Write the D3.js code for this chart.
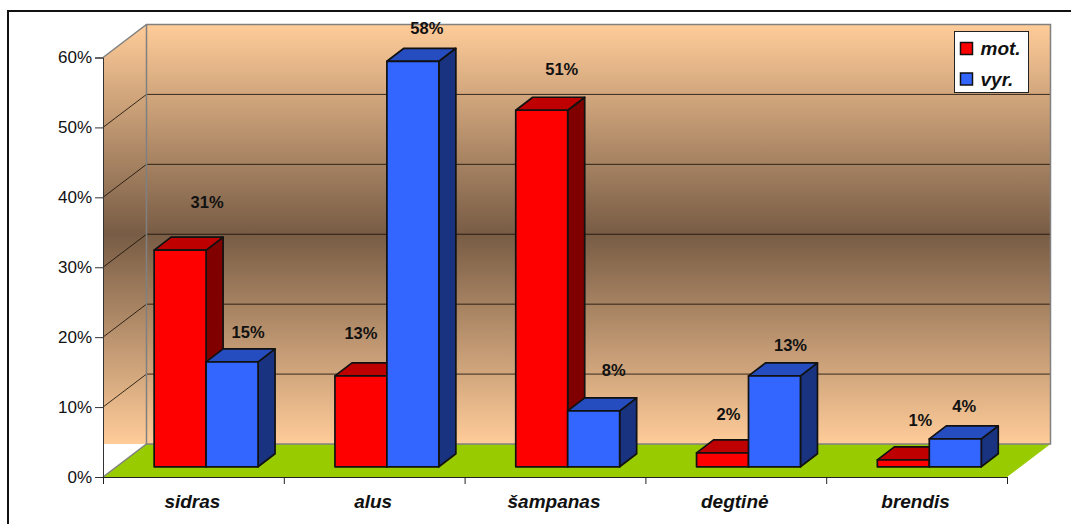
<!DOCTYPE html>
<html>
<head>
<meta charset="utf-8">
<script src="https://cdn.jsdelivr.net/npm/d3@7/dist/d3.min.js"></script>
<style>
    html, body { margin: 0; padding: 0; background: #fff; overflow: hidden; }
    text { font-family: "Liberation Sans", Arial, sans-serif; fill: #111; }
</style>
</head>
<body>
<svg id="chart" width="1071" height="524"></svg>
<script>
var categories = ["sidras", "alus", "šampanas", "degtinė", "brendis"];
var seriesNames = ["mot.", "vyr."];
var motValues = [31, 13, 51, 2, 1];
var vyrValues = [15, 58, 8, 13, 4];
var tickValues = [0, 10, 20, 30, 40, 50, 60];

var colors = {
    "mot.": { front: "#ff0000", top: "#bf0000", side: "#800000" },
    "vyr.": { front: "#3366ff", top: "#264dbf", side: "#1a3380" }
};

// label nudges from the bar's top-centre, [dx, dy], same order as the values
var motNudge = [[27, -48], [0, -43], [20, -41], [6, -39], [17, -40]];
var vyrNudge = [[16, -30], [14, -33], [20, -41], [16, -31], [9, -33]];

var svg = d3.select("#chart");

// front plane of the chart box, and how far back the walls sit
var left = 103, right = 1007, top0 = 57.5, bottom = 477;
var depthX = 43.5, depthY = -33;

var x = d3.scaleBand().domain(categories).range([left, right]).paddingInner(0).paddingOuter(0);
var y = d3.scaleLinear().domain([0, 60]).range([bottom, top0]);

var inner = d3.scaleBand().domain(seriesNames).range([0, x.bandwidth()]).paddingInner(0).paddingOuter(0.74);

// bars stand part way into the floor
var barDx = 12.7, barDy = -10.2;
var barDepthX = 17, barDepthY = -13;

var line = d3.line();

var defs = svg.append("defs");
var grad = defs.append("linearGradient")
    .attr("id", "wallGrad")
    .attr("gradientUnits", "userSpaceOnUse")
    .attr("x1", 0).attr("x2", 0)
    .attr("y1", y(60) + depthY).attr("y2", y(0) + depthY);
grad.append("stop").attr("offset", "0%").attr("stop-color", "#ffcc99");
grad.append("stop").attr("offset", "50%").attr("stop-color", "#785c45");
grad.append("stop").attr("offset", "100%").attr("stop-color", "#ffcc99");

// outer frame, runs off the right and bottom of the page
svg.append("rect")
    .attr("x", 8).attr("y", 11)
    .attr("width", 1100).attr("height", 560)
    .attr("fill", "#fff").attr("stroke", "#111").attr("stroke-width", 2);

// side wall: the gradient stops at the floor line of the back wall
var sideClip = defs.append("clipPath").attr("id", "sideClip");
sideClip.append("rect")
    .attr("x", left).attr("y", y(60) + depthY)
    .attr("width", depthX).attr("height", y(0) - y(60));

svg.append("path")
    .attr("d", line([[left, y(60)], [left + depthX, y(60) + depthY], [left + depthX, y(0) + depthY], [left, y(0)]]) + "Z")
    .attr("fill", "url(#wallGrad)")
    .attr("clip-path", "url(#sideClip)");

// back wall
svg.append("rect")
    .attr("x", left + depthX).attr("y", y(60) + depthY)
    .attr("width", right - left).attr("height", y(0) - y(60))
    .attr("fill", "url(#wallGrad)");

// floor
svg.append("path")
    .attr("d", line([[left, y(0)], [left + depthX, y(0) + depthY], [right + depthX, y(0) + depthY], [right, y(0)]]) + "Z")
    .attr("fill", "#99cc00");

// grid lines on both walls
tickValues.forEach(function (t) {
    if (t === 0 || t === 60) return;
    svg.append("path")
        .attr("d", line([[left, y(t)], [left + depthX, y(t) + depthY], [right + depthX, y(t) + depthY]]))
        .attr("fill", "none")
        .attr("stroke", "#1a1208")
        .attr("stroke-opacity", 0.85)
        .attr("stroke-width", 1);
});

// wall outlines
svg.append("path")
    .attr("d", line([[left, y(0)], [left + depthX, y(0) + depthY], [right + depthX, y(0) + depthY], [right + depthX, y(60) + depthY], [left + depthX, y(60) + depthY], [left, y(60)]]))
    .attr("fill", "none").attr("stroke", "#808080").attr("stroke-width", 1.5);
svg.append("path")
    .attr("d", line([[left + depthX, y(60) + depthY], [left + depthX, y(0) + depthY]]))
    .attr("fill", "none").attr("stroke", "#808080").attr("stroke-width", 1.5);

// axes
var yAxis = d3.axisLeft(y).tickValues(tickValues).tickFormat(function (d) { return d + "%"; }).tickSize(8).tickPadding(3);
var gy = svg.append("g").attr("transform", "translate(" + left + ",0)").call(yAxis);
gy.select(".domain").attr("stroke", "#333");
gy.selectAll(".tick line").attr("stroke", "#333");
gy.selectAll("text").style("font-size", "17px");

var xEdges = d3.scaleLinear().domain([0, categories.length]).range([left, right]);
var gx = svg.append("g").attr("transform", "translate(0," + bottom + ")")
    .call(d3.axisBottom(xEdges).ticks(categories.length).tickFormat("").tickSize(7));
gx.select(".domain").attr("stroke", "#222");
gx.selectAll(".tick line").attr("stroke", "#222");

svg.selectAll(".catLabel").data(categories).enter().append("text")
    .attr("class", "catLabel")
    .attr("x", function (d) { return x(d) + x.bandwidth() / 2 - 1; })
    .attr("y", 508)
    .attr("text-anchor", "middle")
    .style("font-size", "19px")
    .style("font-weight", "bold")
    .style("font-style", "italic")
    .text(function (d) { return d; });

// one 3d box: side and top faces first so the front sits over them
function drawBar(g, name, cat, value) {
    var c = colors[name];
    var x0 = x(cat) + inner(name) + barDx;
    var x1 = x0 + inner.bandwidth();
    var yTop = y(value) + barDy;
    var yBase = y(0) + barDy;

    g.append("path")
        .attr("d", line([[x1, yBase], [x1 + barDepthX, yBase + barDepthY], [x1 + barDepthX, yTop + barDepthY], [x1, yTop]]) + "Z")
        .attr("fill", c.side);
    g.append("path")
        .attr("d", line([[x0, yTop], [x0 + barDepthX, yTop + barDepthY], [x1 + barDepthX, yTop + barDepthY], [x1, yTop]]) + "Z")
        .attr("fill", c.top);
    g.append("rect")
        .attr("x", x0).attr("y", yTop)
        .attr("width", x1 - x0).attr("height", yBase - yTop)
        .attr("fill", c.front);
    g.selectAll("path, rect")
        .attr("stroke", "#111").attr("stroke-width", 1.7).attr("stroke-linejoin", "round");
}

var barsLayer = svg.append("g");
categories.forEach(function (cat, i) {
    drawBar(barsLayer.append("g"), "mot.", cat, motValues[i]);
    drawBar(barsLayer.append("g"), "vyr.", cat, vyrValues[i]);
});

// value labels
function drawLabels(name, values, nudge) {
    svg.append("g").selectAll("text").data(values).enter().append("text")
        .attr("x", function (d, i) { return x(categories[i]) + inner(name) + barDx + inner.bandwidth() / 2 + nudge[i][0]; })
        .attr("y", function (d, i) { return y(d) + barDy + nudge[i][1]; })
        .attr("dy", "0.35em")
        .attr("text-anchor", "middle")
        .style("font-size", "16.5px")
        .style("font-weight", "bold")
        .text(function (d) { return d + "%"; });
}
drawLabels("mot.", motValues, motNudge);
drawLabels("vyr.", vyrValues, vyrNudge);

// legend
var legend = svg.append("g").attr("transform", "translate(954.5,31.5)");
legend.append("rect")
    .attr("width", 74).attr("height", 61)
    .attr("fill", "#fff").attr("stroke", "#222").attr("stroke-width", 1);
seriesNames.forEach(function (name, i) {
    legend.append("rect")
        .attr("x", 6).attr("y", 11 + i * 30.5)
        .attr("width", 12).attr("height", 12)
        .attr("fill", colors[name].front)
        .attr("stroke", "#111").attr("stroke-width", 1.5);
    legend.append("text")
        .attr("x", 26).attr("y", 23.5 + i * 30.5)
        .style("font-size", "19px")
        .style("font-weight", "bold")
        .style("font-style", "italic")
        .text(name);
});
</script>
</body>
</html>
